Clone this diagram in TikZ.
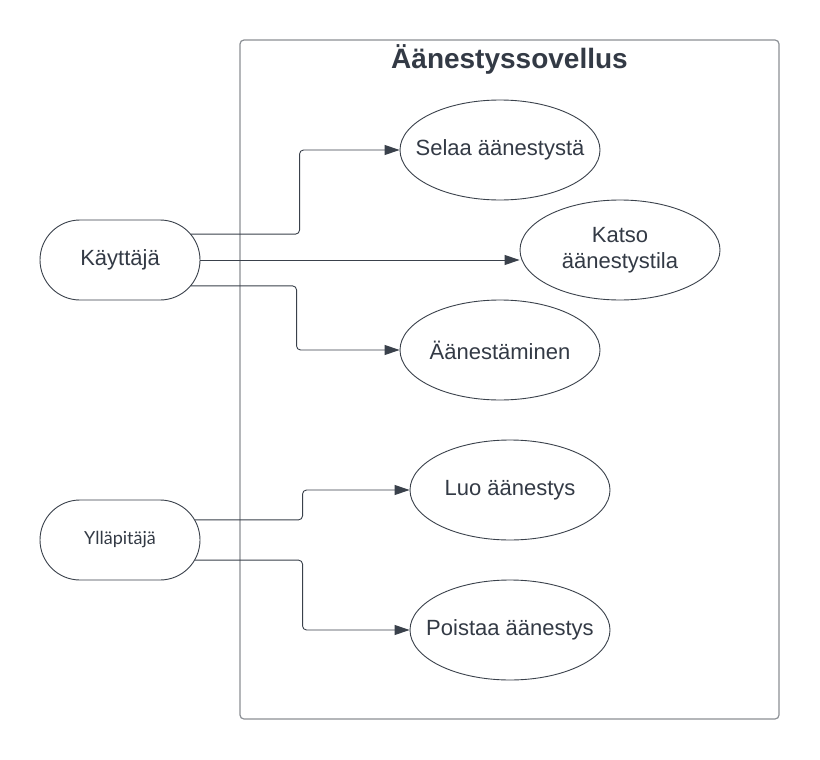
\documentclass[tikz,border=0pt]{standalone}
\usepackage{fontspec}
\setmainfont{Liberation Sans}
\newfontfamily\latofont{Lato}
\usetikzlibrary{shapes.geometric,shapes.misc,arrows.meta,calc}
\definecolor{linec}{HTML}{3A414B}
\definecolor{boxc}{HTML}{8C9095}
\definecolor{textc}{HTML}{333A45}
\tikzset{
  usecase/.style={draw=linec, line width=0.9pt, ellipse, minimum width=200pt, minimum height=100pt, inner xsep=-25pt, inner ysep=0pt, align=center, text=textc, font=\fontsize{22}{26}\selectfont},
  actor/.style={draw=linec, line width=0.9pt, rounded rectangle, minimum width=160pt, minimum height=80pt, inner sep=0pt, text=textc, font=\fontsize{22}{26}\selectfont},
  sysbox/.style={draw=boxc, line width=1.2pt, rounded corners=4pt, inner sep=0pt},
  conn/.style={draw=linec, line width=0.9pt, rounded corners=4pt, -{Triangle[length=15pt,width=10pt]}}
}
\begin{document}
\begin{tikzpicture}[x=1pt,y=-1pt]
\useasboundingbox (0,0) rectangle (820,760);
\fill[white] (0,0) rectangle (820,760);
\node[sysbox, minimum width=539pt, minimum height=679pt] (sys) at (509.5,379.5) {};
\node[text=textc, font=\fontsize{28}{32}\selectfont\bfseries] (title) at (509.5,59) {Äänestyssovellus};

\node[actor] (k) at (120,260) {Käyttäjä};
\node[actor, font=\fontsize{18}{22}\selectfont\latofont] (y) at (120,540) {Ylläpitäjä};

\node[usecase] (s) at (500,150) {Selaa äänestystä};
\node[usecase] (c) at (620,250) {Katso\\äänestystila};
\node[usecase] (a) at (500,350) {Äänestäminen};
\node[usecase] (l) at (510,490) {Luo äänestys};
\node[usecase] (p) at (510,630) {Poistaa äänestys};

\draw[conn] (k.20) -- ($(k.20 -| s.west)+(-100,0)$) -- ($(s.west)+(-100,0)$) -- (s.west);
\draw[conn] (k.east) -- (k.east -| c.west);
\draw[conn] (k.-20) -- ($(k.-20 -| a.west)+(-103,0)$) -- ($(a.west)+(-103,0)$) -- (a.west);
\draw[conn] (y.15) -- ($(y.15 -| l.west)+(-107,0)$) -- ($(l.west)+(-107,0)$) -- (l.west);
\draw[conn] (y.-15) -- ($(y.-15 -| p.west)+(-107,0)$) -- ($(p.west)+(-107,0)$) -- (p.west);
\end{tikzpicture}
\end{document}
